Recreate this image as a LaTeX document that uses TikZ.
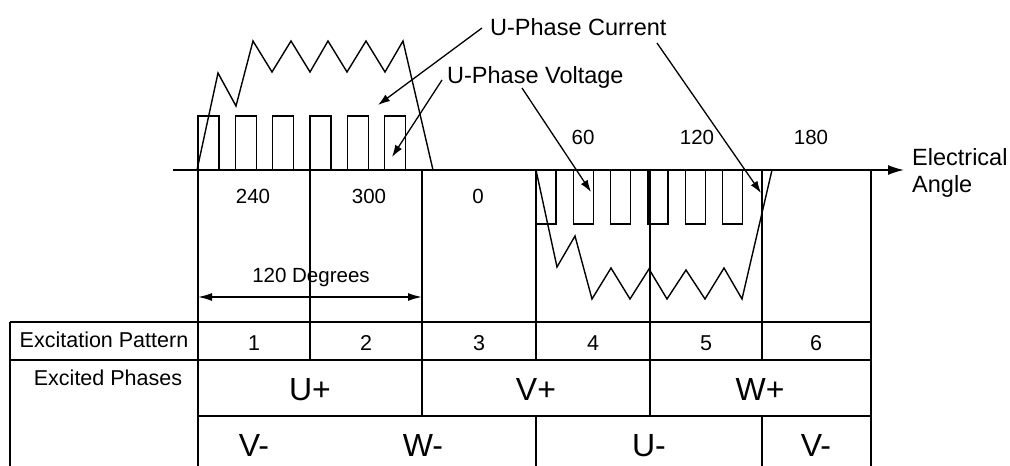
\documentclass[tikz,border=0pt]{standalone}
\usepackage{fontspec}
\setmainfont{Liberation Sans}
\usetikzlibrary{arrows.meta}
\begin{document}
\begin{tikzpicture}[x=1pt,y=-1pt,
  ln/.style={line width=1.6pt},
  wave/.style={line width=1.4pt, line join=miter},
  lbl/.style={inner sep=0pt, font=\fontsize{23.5}{28}\selectfont},
  deg/.style={inner sep=0pt, font=\fontsize{20.5}{24}\selectfont},
  tbl/.style={inner sep=0pt, font=\fontsize{21.5}{25}\selectfont},
  ph/.style={inner sep=0pt, font=\fontsize{32}{36}\selectfont},
  ptr/.style={line width=1.3pt, -{Latex[length=12pt,width=8pt]}},
  dim/.style={line width=1.5pt, {Latex[length=14pt,width=8pt]}-{Latex[length=14pt,width=8pt]}},
]
\useasboundingbox (0,0) rectangle (1010,466);

% axis
\coordinate (ax0) at (173,170);
\coordinate (ax1) at (904,170);
\draw[ln,-{Latex[length=16pt,width=10pt]}] (ax0) -- (ax1);

% vertical grid lines
\draw[ln] (198,170) -- (198,466);
\draw[ln] (310,170) -- (310,360);
\draw[ln] (422,170) -- (422,416);
\draw[ln] (536,170) -- (536,360);
\draw[ln] (536,416) -- (536,466);
\draw[ln] (650,170) -- (650,416);
\draw[ln] (762,170) -- (762,360);
\draw[ln] (762,416) -- (762,466);
\draw[ln] (871,170) -- (871,466);

% table
\draw[ln] (10,322) -- (871,322);
\draw[ln] (10,360) -- (871,360);
\draw[ln] (198,416) -- (871,416);
\draw[ln] (10,322) -- (10,466);

% voltage pulses
\foreach \k in {0,...,5} {
  \pgfmathsetmacro{\xs}{198+\k*37.33}
  \draw[wave] (\xs,170) -- (\xs,116) -- (\xs+21,116) -- (\xs+21,170);
  \pgfmathsetmacro{\xl}{536+\k*37.33}
  \draw[wave] (\xl,170) -- (\xl,224) -- (\xl+20,224) -- (\xl+20,170);
}

% currents
\draw[wave] (197,170) -- (218,73) -- (236,106) -- (253,41) -- (272,72) -- (291,41) -- (310,72)
  -- (328,41) -- (347,72) -- (366,41) -- (385,72) -- (403,41) -- (433,170);
\draw[wave] (536,170) -- (557,267) -- (575,236) -- (592,299) -- (611,268) -- (630,299) -- (649,269)
  -- (667,299) -- (686,270) -- (705,299) -- (724,268) -- (742,299) -- (772,170);

% labels
\node[lbl,anchor=base west] (cur) at (490,35) {U-Phase Current};
\node[lbl,anchor=base west] (vol) at (447,83) {U-Phase Voltage};
\node[lbl,anchor=base west] (ea1) at (912,165) {Electrical};
\node[lbl,anchor=base west] (ea2) at (912,192) {Angle};

% pointers
\coordinate (c1s) at (482,28);  \coordinate (c1e) at (378,105);
\coordinate (c2s) at (657,43);  \coordinate (c2e) at (761,193);
\coordinate (v1s) at (442,80);  \coordinate (v1e) at (392,157);
\coordinate (v2s) at (522,88);  \coordinate (v2e) at (591,192);
\draw[ptr] (c1s) -- (c1e);
\draw[ptr] (c2s) -- (c2e);
\draw[ptr] (v1s) -- (v1e);
\draw[ptr] (v2s) -- (v2e);

% angle numbers
\node[deg,anchor=base] (d60) at (583,144) {60};
\node[deg,anchor=base] (d120) at (697,144) {120};
\node[deg,anchor=base] (d180) at (811,144) {180};
\node[deg,anchor=base] (d240) at (253,203) {240};
\node[deg,anchor=base] (d300) at (369,203) {300};
\node[deg,anchor=base] (d0) at (478,203) {0};

% 120 degrees dimension
\node[deg,anchor=base] (dd) at (311,282) {120 Degrees};
\coordinate (dl) at (198,297);
\coordinate (dr) at (422,297);
\draw[dim] (dl) -- (dr);

% table text
\node[tbl,anchor=base] (ep) at (104,347) {Excitation Pattern};
\node[tbl,anchor=base] (xp) at (108,385) {Excited Phases};
\node[tbl,anchor=base] (p1) at (254,350) {1};
\node[tbl,anchor=base] (p2) at (366,350) {2};
\node[tbl,anchor=base] (p3) at (479,350) {3};
\node[tbl,anchor=base] (p4) at (593,350) {4};
\node[tbl,anchor=base] (p5) at (706,350) {5};
\node[tbl,anchor=base] (p6) at (816,350) {6};

\node[ph,anchor=base] (up) at (310,400) {U+};
\node[ph,anchor=base] (vp) at (536,400) {V+};
\node[ph,anchor=base] (wp) at (760,400) {W+};
\node[ph,anchor=base] (vm1) at (254,456) {V-};
\node[ph,anchor=base] (wm) at (423,456) {W-};
\node[ph,anchor=base] (um) at (649,456) {U-};
\node[ph,anchor=base] (vm2) at (816,456) {V-};
\end{tikzpicture}
\end{document}
